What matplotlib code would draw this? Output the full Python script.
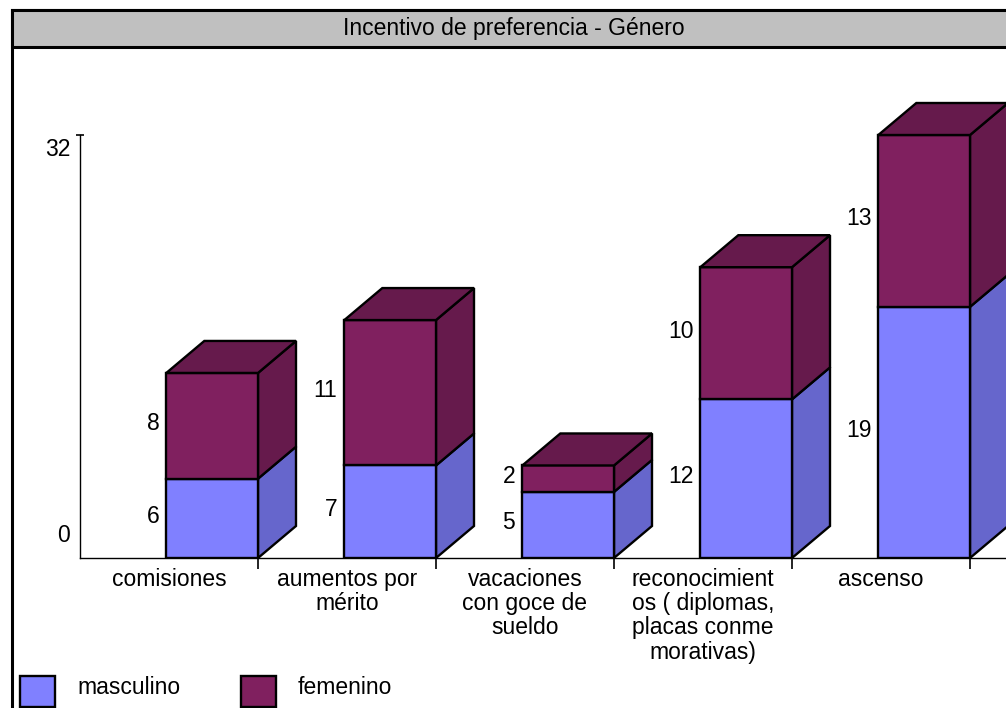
import numpy as np
import matplotlib.pyplot as plt
from matplotlib.patches import Polygon, Rectangle

plt.rcParams['font.family'] = ['Liberation Sans', 'DejaVu Sans']

categories = ['comisiones', 'aumentos por\nmérito', 'vacaciones\ncon goce de\nsueldo',
              'reconocimient\nos ( diplomas,\nplacas conme\nmorativas)', 'ascenso']
series = ['masculino', 'femenino']
masculino = [6, 7, 5, 12, 19]
femenino = [8, 11, 2, 10, 13]

front = {'masculino': '#8080FF', 'femenino': '#80205F'}
side = {'masculino': '#6666CC', 'femenino': '#661A4C'}

W, H = 1006, 708
fs = 16.5
fig = plt.figure(figsize=(W / 100, H / 100), dpi=100)

# frame and grey title band, kept behind the plot area
fig.add_artist(Rectangle((12 / W, -0.1), 1.2, (H - 10) / H + 0.1, transform=fig.transFigure,
                         facecolor='white', edgecolor='black', lw=2.2, zorder=-2))
fig.add_artist(Rectangle((12 / W, (H - 47) / H), 1.2, 37 / H, transform=fig.transFigure,
                         facecolor='#C0C0C0', edgecolor='black', lw=2.2, zorder=-1))
fig.text(514 / W, (H - 29) / H, 'Incentivo de preferencia - Género', ha='center', va='center',
         fontsize=fs)

# plot area: 0 sits at y=558px, 32 at y=135px
x0px, base_px, top_px = 80, 558, 50
ppu = (558 - 135) / 32.0
cat_w = 178.0
ax = fig.add_axes([x0px / W, (H - base_px) / H, (W - x0px) / W, (base_px - top_px) / H])
ax.set_xlim(0, (W - x0px) / cat_w)
ax.set_ylim(0, (base_px - top_px) / ppu)
ax.patch.set_visible(False)

bar_l, bar_r = 0.485, 1.0
dx, dy = 38 / cat_w, 32 / ppu
lw = 1.7

for i, (m, f) in enumerate(zip(masculino, femenino)):
    xl, xr = i + bar_l, i + bar_r
    bottom = 0
    for name, v in (('masculino', m), ('femenino', f)):
        top = bottom + v
        ax.add_patch(Polygon([(xr, bottom), (xr + dx, bottom + dy), (xr + dx, top + dy), (xr, top)],
                             closed=True, facecolor=side[name], edgecolor='black', lw=lw,
                             joinstyle='miter'))
        ax.add_patch(Rectangle((xl, bottom), xr - xl, v, facecolor=front[name],
                               edgecolor='black', lw=lw, joinstyle='miter'))
        ax.annotate(str(v), xy=(xl, bottom + v / 2), xytext=(-7, 2), textcoords='offset pixels',
                    ha='right', va='center', fontsize=fs)
        bottom = top
    ax.add_patch(Polygon([(xl, bottom), (xl + dx, bottom + dy), (xr + dx, bottom + dy), (xr, bottom)],
                         closed=True, facecolor=side['femenino'], edgecolor='black', lw=lw,
                         joinstyle='miter'))

for s in ('top', 'right'):
    ax.spines[s].set_visible(False)
ax.spines['left'].set_bounds(0, 32)
ax.spines['left'].set_linewidth(1.0)
ax.spines['bottom'].set_linewidth(1.0)

centers = np.arange(len(categories)) + 0.5
ax.set_xticks(centers, categories, fontsize=fs, linespacing=1.07)
ax.set_xticks(np.arange(1, len(categories) + 1), minor=True)
ax.tick_params(axis='x', which='major', length=0, pad=7)
ax.tick_params(axis='x', which='minor', length=8, width=1.2, direction='out')
ax.set_yticks([32], [''])
ax.tick_params(axis='y', length=6, width=1.2, direction='inout')

ax.annotate('32', xy=(0, 32), xytext=(-10, -15), textcoords='offset pixels',
            ha='right', va='center', fontsize=fs)
ax.annotate('0', xy=(0, 0), xytext=(-10, 23), textcoords='offset pixels',
            ha='right', va='center', fontsize=fs)

# legend
for k, name in enumerate(series):
    lx = 20 + 221 * k
    fig.add_artist(Rectangle((lx / W, 1 / H), 35 / W, 31 / H, transform=fig.transFigure,
                             facecolor=front[name], edgecolor='black', lw=lw))
    fig.text((lx + 57) / W, (H - 688) / H, name, ha='left', va='center', fontsize=fs)

fig.savefig('out.png', dpi=100)
